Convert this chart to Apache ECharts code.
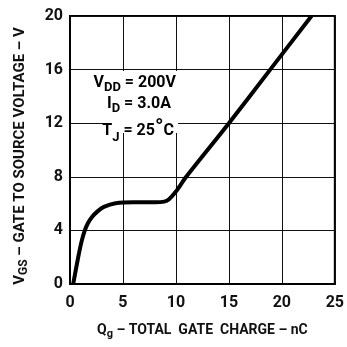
<!DOCTYPE html>
<html><head><meta charset="utf-8">
<script src="https://cdn.jsdelivr.net/npm/echarts@6/dist/echarts.min.js"></script>
<style>html,body{margin:0;padding:0;background:#fff}#c{width:347px;height:347px}</style>
</head><body><div id="c"></div>
<script>
const qg = [0.3, 0.75, 1.1, 1.4, 1.7, 2.08, 2.6, 3.2, 4.3, 6.0, 8.0, 8.9, 9.35, 10.0, 10.97, 15.0, 18.9, 22.8];
const vgs = [0, 1.9, 3.2, 4.0, 4.55, 5.0, 5.42, 5.75, 6.02, 6.1, 6.1, 6.15, 6.33, 6.9, 8.0, 12.0, 16.0, 20.0];
const xTicks = [0, 5, 10, 15, 20, 25];
const yTicks = [0, 4, 8, 12, 16, 20];
const notes = [
  '{m|V}{s|DD}{m| = 200V}',
  '{m|I}{s|D}{m| = 3.0A}',
  '{m|T}{s|J}{m| = 25}{o|°}{m|C}'
];
const FONT = 'Roboto, "Liberation Sans", sans-serif';
const W = 'bold';
const subX = {fontFamily: FONT, fontWeight: W, fontSize: 11, color: '#111', verticalAlign: 'bottom', padding: [8,0,0,0]};
const mainX = {fontFamily: FONT, fontWeight: W, fontSize: 14, color: '#111'};
const subY = {fontFamily: FONT, fontWeight: W, fontSize: 12, color: '#111', verticalAlign: 'bottom', padding: [8,0,0,0]};
const mainY = {fontFamily: FONT, fontWeight: W, fontSize: 15, color: '#111'};
const chart = echarts.init(document.getElementById('c'), null, {renderer: 'canvas'});
const noteRich = {
  m: {fontFamily: FONT, fontWeight: W, fontSize: 16, color: '#111'},
  s: {fontFamily: FONT, fontWeight: W, fontSize: 13, color: '#111', verticalAlign: 'bottom', padding: [9,0,0,0]},
  o: {fontFamily: FONT, fontWeight: W, fontSize: 22, color: '#111', verticalAlign: 'top', padding: [0,0,5,0]}
};
chart.setOption({
  animation: false,
  backgroundColor: '#fff',
  grid: {left: 70, right: 11, top: 16, bottom: 63, show: true, borderColor: '#000', borderWidth: 2, backgroundColor: 'transparent'},
  xAxis: {
    type: 'value', min: xTicks[0], max: xTicks[xTicks.length-1], interval: 5,
    name: '{m|Q}{s|g}{m| – TOTAL  GATE  CHARGE – nC}',
    nameLocation: 'middle', nameGap: 37,
    nameTextStyle: {rich: {m: mainX, s: subX}},
    axisLine: {show: true, lineStyle: {color: '#000', width: 2}},
    axisTick: {show: false},
    axisLabel: {fontFamily: FONT, fontWeight: W, fontSize: 16, color: '#111', margin: 11},
    splitLine: {show: true, lineStyle: {color: '#111', width: 1}}
  },
  yAxis: {
    type: 'value', min: yTicks[0], max: yTicks[yTicks.length-1], interval: 4,
    name: '{m|V}{s|GS}{m| – GATE TO SOURCE VOLTAGE – V}',
    nameLocation: 'middle', nameGap: 40, nameRotate: 90,
    nameTextStyle: {rich: {m: mainY, s: subY}, padding: [0, 12, 0, 0]},
    axisLine: {show: true, lineStyle: {color: '#000', width: 2}},
    axisTick: {show: false},
    axisLabel: {fontFamily: FONT, fontWeight: W, fontSize: 16, color: '#111', margin: 7},
    splitLine: {show: true, lineStyle: {color: '#111', width: 1}}
  },
  graphic: [
    {type: 'rect', left: 106, top: 71, z: 99, shape: {width: 72, height: 62}, style: {fill: '#fff'}},
    {type: 'text', right: 171, top: 75, z: 100, style: {text: notes[0], rich: noteRich}},
    {type: 'text', right: 176, top: 96, z: 100, style: {text: notes[1], rich: noteRich}},
    {type: 'text', right: 173, top: 117, z: 100, style: {text: notes[2], rich: noteRich}}
  ],
  series: [{
    type: 'line', data: qg.map((x, i) => [x, vgs[i]]), smooth: 0.3,
    showSymbol: false, symbol: 'none', lineStyle: {color: '#000', width: 4}, z: 10
  }]
});
</script></body></html>
